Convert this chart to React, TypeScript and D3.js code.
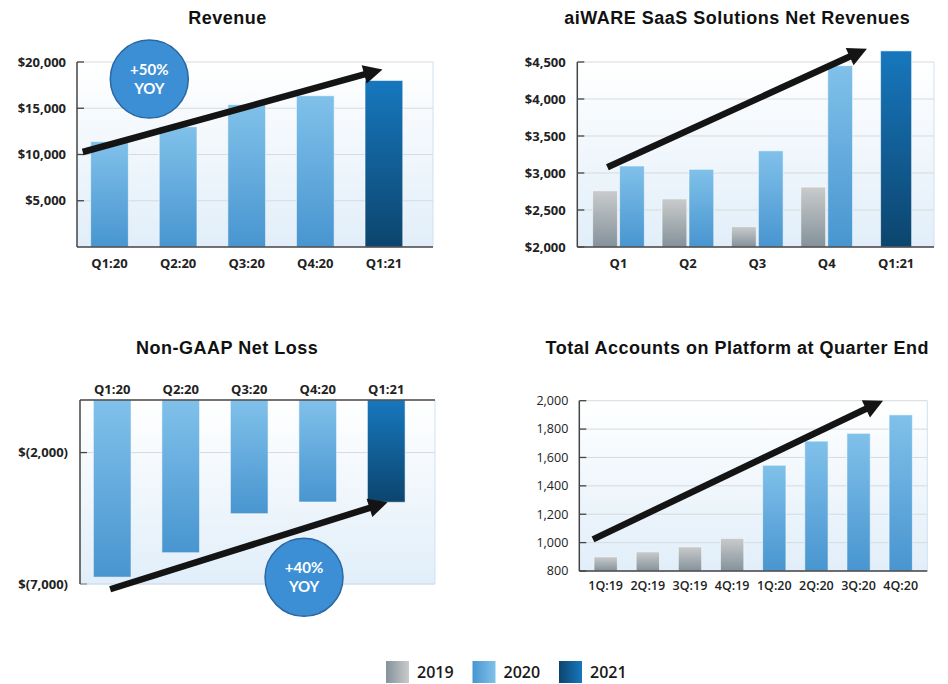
import React from "react";
import * as d3 from "d3";

const W = 948;
const H = 684;

// Revenue ($ thousands)
const revenueQuarters = ["Q1:20", "Q2:20", "Q3:20", "Q4:20", "Q1:21"];
const revenueValues = [11400, 13000, 15400, 16350, 18000];
const revenueYears = ["2020", "2020", "2020", "2020", "2021"];
const revenueTicks = [5000, 10000, 15000, 20000];

// aiWARE SaaS solutions net revenues ($ thousands)
const saasQuarters = ["Q1", "Q2", "Q3", "Q4", "Q1:21"];
const saas2019 = [2760, 2650, 2275, 2810, null];
const saas2020 = [3095, 3050, 3300, 4450, null];
const saas2021 = [null, null, null, null, 4650];
const saasTicks = [2000, 2500, 3000, 3500, 4000, 4500];

// Non-GAAP net loss ($ thousands)
const lossQuarters = ["Q1:20", "Q2:20", "Q3:20", "Q4:20", "Q1:21"];
const lossValues = [-6740, -5810, -4325, -3880, -3890];
const lossYears = ["2020", "2020", "2020", "2020", "2021"];
const lossTicks = [-2000, -7000];

// total accounts on platform
const accountQuarters = ["1Q:19", "2Q:19", "3Q:19", "4Q:19", "1Q:20", "2Q:20", "3Q:20", "4Q:20"];
const accountValues = [900, 935, 970, 1030, 1545, 1715, 1770, 1900];
const accountYears = ["2019", "2019", "2019", "2019", "2020", "2020", "2020", "2020"];
const accountTicks = [800, 1000, 1200, 1400, 1600, 1800, 2000];

const legendYears = ["2019", "2020", "2021"];

// trend arrows / badges in data units: [band index, value]
const revenueArrow = [[-0.39, 10270], [3.98, 19200]];
const revenueBadge = [0.58, 18150];
const saasArrow = [[-0.16, 3077], [3.58, 4680]];
const lossArrow = [[-0.03, -7200], [4.02, -3890]];
const lossBadge = [2.8, -6745];
const accountArrow = [[-0.3, 1023], [6.58, 2000]];

const BAR_COLORS = {
  "2019": ["#c9cbcc", "#84929a"],
  "2020": ["#80c1ea", "#4895d0"],
  "2021": ["#1777bd", "#0c456e"],
};

const LABEL_FONT = "'Open Sans', 'DejaVu Sans', sans-serif";
const TITLE_FONT = "'Liberation Sans', Arial, sans-serif";
const BADGE_FONT = "Lato, 'Open Sans', sans-serif";

function Arrow({ x1, y1, x2, y2 }) {
  const dx = x2 - x1, dy = y2 - y1;
  const len = Math.hypot(dx, dy);
  const ux = dx / len, uy = dy / len;
  const head = 19, half = 9.5;
  const bx = x2 - ux * head, by = y2 - uy * head;
  const pts = [
    [x2, y2],
    [bx - uy * half, by + ux * half],
    [bx + uy * half, by - ux * half],
  ];
  return (
    <g>
      <line x1={x1} y1={y1} x2={bx + ux * 2} y2={by + uy * 2} stroke="#141414" strokeWidth={6.5} />
      <polygon points={pts.map(p => p.join(",")).join(" ")} fill="#141414" />
    </g>
  );
}

function Badge({ cx, cy, label }) {
  return (
    <g>
      <circle cx={cx} cy={cy} r={39} fill="#3d8fd5" stroke="#2a67a3" strokeWidth={1.5} />
      <text x={cx} y={cy - 4} textAnchor="middle" fontFamily={BADGE_FONT} fontWeight={700} fontSize={15} fill="#fff">
        {label}
      </text>
      <text x={cx} y={cy + 14.5} textAnchor="middle" fontFamily={BADGE_FONT} fontWeight={700} fontSize={15} fill="#fff">
        {"YOY"}
      </text>
    </g>
  );
}

function Title({ x, y, text }) {
  return (
    <text x={x} y={y} textAnchor="middle" fontFamily={TITLE_FONT} fontWeight={700} fontSize={18} letterSpacing={0.5} fill="#111">
      {text}
    </text>
  );
}

// plot background + gridlines + y labels
function Plot({ left, right, top, bottom, y, ticks, fmt, labelX, weight = 700, size = 13, grid = true }) {
  return (
    <g>
      <rect x={left} y={top} width={right - left} height={bottom - top} fill="url(#plotBg)" />
      <line x1={right} x2={right} y1={top} y2={bottom} stroke="#cfe2f2" />
      {ticks.map((t, i) => {
        const ty = y(t);
        return (
          <g key={i}>
            {grid && <line x1={left} x2={right} y1={ty} y2={ty} stroke="#d5dbe0" strokeWidth={1} />}
            <line x1={left} x2={left + 7} y1={ty} y2={ty} stroke="#444" strokeWidth={1.3} />
            <text x={labelX} y={ty} dy="0.35em" textAnchor="end" fontFamily={LABEL_FONT} fontWeight={weight} fontSize={size} fill="#222">
              {fmt(t)}
            </text>
          </g>
        );
      })}
    </g>
  );
}

function indexScale(x) {
  const d = x.domain();
  return d3.scaleLinear()
    .domain([0, d.length - 1])
    .range([x(d[0]) + x.bandwidth() / 2, x(d[d.length - 1]) + x.bandwidth() / 2]);
}

export default function App() {
  // ---------- Revenue ----------
  const rx = d3.scaleBand().domain(revenueQuarters).range([75.2, 418.2]).paddingInner(0.45).paddingOuter(0.225);
  const ry = d3.scaleLinear().domain([0, 20000]).range([247, 62]);
  const rxi = indexScale(rx);
  const dollar = d3.format("$,");

  // ---------- SaaS ----------
  const sx = d3.scaleBand().domain(saasQuarters).range([583.8, 930.8]).paddingInner(0.255).paddingOuter(0.1275);
  const sxIn = d3.scaleBand().domain(["2019", "2020"]).range([0, sx.bandwidth()]).paddingInner(0.08);
  const sy = d3.scaleLinear().domain([2000, 4500]).range([247, 62]);
  const sxi = indexScale(sx);

  // ---------- Loss ----------
  const lx = d3.scaleBand().domain(lossQuarters).range([77.95, 420.5]).paddingInner(0.45).paddingOuter(0.225);
  const ly = d3.scaleLinear().domain([-7000, 0]).range([584, 400]);
  const lxi = indexScale(lx);
  const lossFmt = d => `$(${d3.format(",")(-d)})`;

  // ---------- Accounts ----------
  const ax = d3.scaleBand().domain(accountQuarters).range([584.6, 921.8]).paddingInner(0.447).paddingOuter(0.2235);
  const ay = d3.scaleLinear().domain([800, 2000]).range([571, 400.7]);
  const axi = indexScale(ax);

  const legendX = d3.scaleBand().domain(legendYears).range([386, 386 + 3 * 86.5]);

  return (
    <svg width={W} height={H} style={{ position: "absolute", left: 0, top: 0, background: "#fff" }}>
      <defs>
        <linearGradient id="plotBg" x1={0} x2={0} y1={0} y2={1}>
          <stop offset="0%" stopColor="#ffffff" />
          <stop offset="100%" stopColor="#e1eef9" />
        </linearGradient>
        {legendYears.map(yr => (
          <linearGradient key={yr} id={`bar-${yr}`} x1={0} x2={0} y1={0} y2={1}>
            <stop offset="0%" stopColor={BAR_COLORS[yr][0]} />
            <stop offset="100%" stopColor={BAR_COLORS[yr][1]} />
          </linearGradient>
        ))}
        {legendYears.map(yr => (
          <linearGradient key={yr} id={`sw-${yr}`} x1={0} x2={1} y1={0} y2={0}>
            <stop offset="0%" stopColor={BAR_COLORS[yr][1]} />
            <stop offset="100%" stopColor={BAR_COLORS[yr][0]} />
          </linearGradient>
        ))}
      </defs>

      {/* Revenue */}
      <Title x={227.5} y={23.5} text="Revenue" />
      <Plot left={77} right={433} top={62} bottom={247} y={ry} ticks={revenueTicks} fmt={dollar} labelX={66} />
      {revenueQuarters.map((q, i) => (
        <rect key={q} x={rx(q)} y={ry(revenueValues[i])} width={rx.bandwidth()} height={ry(0) - ry(revenueValues[i])}
          fill={`url(#bar-${revenueYears[i]})`} stroke="rgba(255,255,255,0.55)" strokeWidth={1} />
      ))}
      <line x1={77} x2={77} y1={62} y2={247} stroke="#444" strokeWidth={1.5} />
      <line x1={77} x2={433} y1={247} y2={247} stroke="#444" strokeWidth={1.5} />
      {revenueQuarters.map(q => (
        <text key={q} x={rx(q) + rx.bandwidth() / 2} y={267.5} textAnchor="middle" fontFamily={LABEL_FONT} fontWeight={700} fontSize={13} fill="#222">{q}</text>
      ))}
      <Arrow x1={rxi(revenueArrow[0][0])} y1={ry(revenueArrow[0][1])} x2={rxi(revenueArrow[1][0])} y2={ry(revenueArrow[1][1])} />
      <Badge cx={rxi(revenueBadge[0])} cy={ry(revenueBadge[1])} label="+50%" />

      {/* aiWARE SaaS */}
      <Title x={737.3} y={23.5} text="aiWARE SaaS Solutions Net Revenues" />
      <Plot left={577.3} right={934} top={62} bottom={247} y={sy} ticks={saasTicks} fmt={dollar} labelX={565.7} />
      {saasQuarters.map((q, i) => (
        <g key={q}>
          {saas2019[i] != null && (
            <rect x={sx(q) + sxIn("2019")} y={sy(saas2019[i])} width={sxIn.bandwidth()} height={sy(2000) - sy(saas2019[i])}
              fill="url(#bar-2019)" stroke="rgba(255,255,255,0.55)" />
          )}
          {saas2020[i] != null && (
            <rect x={sx(q) + sxIn("2020")} y={sy(saas2020[i])} width={sxIn.bandwidth()} height={sy(2000) - sy(saas2020[i])}
              fill="url(#bar-2020)" stroke="rgba(255,255,255,0.55)" />
          )}
          {saas2021[i] != null && (
            <rect x={sx(q) + sx.bandwidth() * 0.2} y={sy(saas2021[i])} width={sx.bandwidth() * 0.6} height={sy(2000) - sy(saas2021[i])}
              fill="url(#bar-2021)" stroke="rgba(255,255,255,0.55)" />
          )}
        </g>
      ))}
      <line x1={577.3} x2={577.3} y1={62} y2={247} stroke="#444" strokeWidth={1.5} />
      <line x1={577.3} x2={934} y1={247} y2={247} stroke="#444" strokeWidth={1.5} />
      {saasQuarters.map(q => (
        <text key={q} x={sx(q) + sx.bandwidth() / 2} y={267.5} textAnchor="middle" fontFamily={LABEL_FONT} fontWeight={700} fontSize={13} fill="#222">{q}</text>
      ))}
      <Arrow x1={sxi(saasArrow[0][0])} y1={sy(saasArrow[0][1])} x2={sxi(saasArrow[1][0])} y2={sy(saasArrow[1][1])} />

      {/* Non-GAAP Net Loss */}
      <Title x={227.2} y={354} text="Non-GAAP Net Loss" />
      <Plot left={80} right={435} top={400} bottom={584} y={ly} ticks={lossTicks} fmt={lossFmt} labelX={68} />
      <line x1={80} x2={435} y1={584} y2={584} stroke="#cfe2f2" />
      {lossQuarters.map((q, i) => (
        <rect key={q} x={lx(q)} y={ly(0)} width={lx.bandwidth()} height={ly(lossValues[i]) - ly(0)}
          fill={`url(#bar-${lossYears[i]})`} stroke="rgba(255,255,255,0.55)" />
      ))}
      <line x1={80} x2={80} y1={400} y2={584} stroke="#444" strokeWidth={1.5} />
      <line x1={80} x2={435} y1={400} y2={400} stroke="#444" strokeWidth={1.5} />
      {lossQuarters.map(q => (
        <text key={q} x={lx(q) + lx.bandwidth() / 2} y={394} textAnchor="middle" fontFamily={LABEL_FONT} fontWeight={700} fontSize={13} fill="#222">{q}</text>
      ))}
      <Arrow x1={lxi(lossArrow[0][0])} y1={ly(lossArrow[0][1])} x2={lxi(lossArrow[1][0])} y2={ly(lossArrow[1][1])} />
      <Badge cx={lxi(lossBadge[0])} cy={ly(lossBadge[1])} label="+40%" />

      {/* Total Accounts */}
      <Title x={737.3} y={354} text="Total Accounts on Platform at Quarter End" />
      <Plot left={579.3} right={927.3} top={400.7} bottom={571} y={ay} ticks={accountTicks} fmt={d3.format(",")} labelX={568.3} weight={400} size={12.5} />
      {accountQuarters.map((q, i) => (
        <rect key={q} x={ax(q)} y={ay(accountValues[i])} width={ax.bandwidth()} height={ay(800) - ay(accountValues[i])}
          fill={`url(#bar-${accountYears[i]})`} stroke="rgba(255,255,255,0.55)" />
      ))}
      <line x1={579.3} x2={579.3} y1={400.7} y2={571} stroke="#444" strokeWidth={1.5} />
      <line x1={579.3} x2={927.3} y1={571} y2={571} stroke="#444" strokeWidth={1.5} />
      {accountQuarters.map(q => (
        <text key={q} x={ax(q) + ax.bandwidth() / 2} y={589.5} textAnchor="middle" fontFamily={LABEL_FONT} fontWeight={600} fontSize={12.5} fill="#222">{q}</text>
      ))}
      <Arrow x1={axi(accountArrow[0][0])} y1={ay(accountArrow[0][1])} x2={axi(accountArrow[1][0])} y2={ay(accountArrow[1][1])} />

      {/* legend */}
      {legendYears.map(yr => (
        <g key={yr}>
          <rect x={legendX(yr)} y={661} width={23} height={22} fill={`url(#sw-${yr})`} />
          <text x={legendX(yr) + 31} y={678} fontFamily={LABEL_FONT} fontWeight={600} fontSize={16} fill="#1a1a1a">{yr}</text>
        </g>
      ))}
    </svg>
  );
}
